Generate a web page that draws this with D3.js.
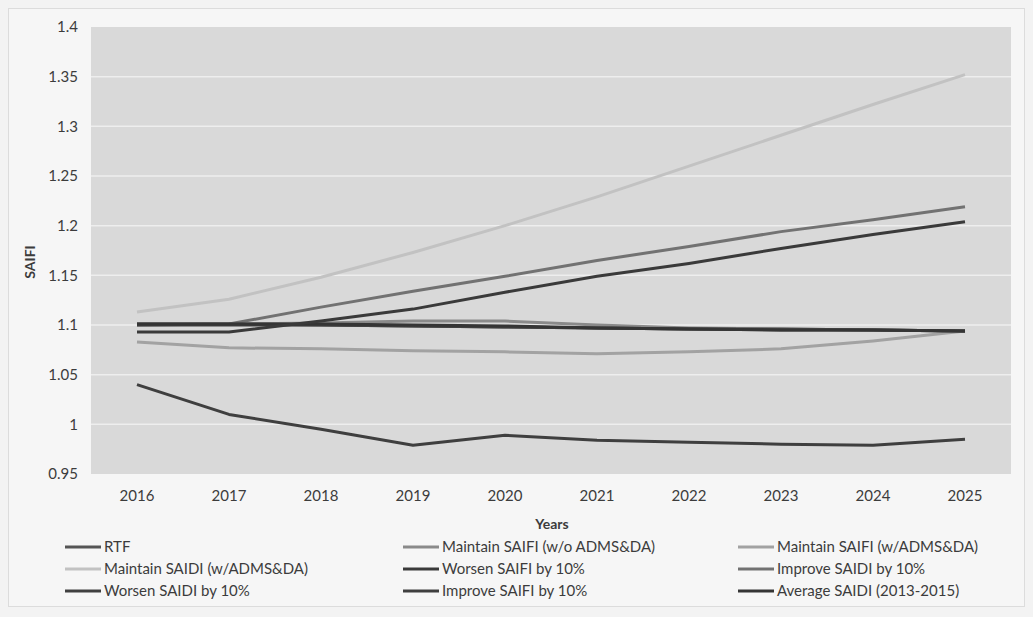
<!DOCTYPE html>
<html>
<head>
<meta charset="utf-8">
<script src="https://cdn.jsdelivr.net/npm/d3@7"></script>
<style>
  html, body { margin: 0; padding: 0; background: #f3f3f3; }
  svg { display: block; font-family: Lato, "Open Sans", "Liberation Sans", sans-serif; }
</style>
</head>
<body>
<svg id="chart" width="1033" height="617"></svg>
<script>
// Projected SAIFI by scenario, 2016-2025
const years = ["2016", "2017", "2018", "2019", "2020", "2021", "2022", "2023", "2024", "2025"];
const yTicks = [0.95, 1, 1.05, 1.1, 1.15, 1.2, 1.25, 1.3, 1.35, 1.4];

const rtf               = [1.101, 1.101, 1.100, 1.099, 1.098, 1.097, 1.096, 1.096, 1.095, 1.094];
const maintainSaifiWo   = [1.101, 1.101, 1.102, 1.104, 1.104, 1.100, 1.097, 1.096, 1.095, 1.094];
const maintainSaifiW    = [1.083, 1.077, 1.076, 1.074, 1.073, 1.071, 1.073, 1.076, 1.084, 1.094];
const maintainSaidiW    = [1.113, 1.126, 1.148, 1.173, 1.200, 1.229, 1.260, 1.291, 1.322, 1.352];
const worsenSaifi10     = [1.093, 1.093, 1.104, 1.116, 1.133, 1.149, 1.162, 1.177, 1.191, 1.204];
const improveSaidi10    = [1.100, 1.101, 1.118, 1.134, 1.149, 1.165, 1.179, 1.194, 1.206, 1.219];
const worsenSaidi10     = [1.100, 1.100, 1.100, 1.099, 1.098, 1.097, 1.096, 1.095, 1.095, 1.094];
const improveSaifi10    = [1.040, 1.010, 0.995, 0.979, 0.989, 0.984, 0.982, 0.980, 0.979, 0.985];
const averageSaidi      = [1.101, 1.101, 1.101, 1.100, 1.099, 1.097, 1.096, 1.095, 1.095, 1.094];

const seriesNames = [
  "RTF", "Maintain SAIFI (w/o ADMS&DA)", "Maintain SAIFI (w/ADMS&DA)",
  "Maintain SAIDI (w/ADMS&DA)", "Worsen SAIFI by 10%", "Improve SAIDI by 10%",
  "Worsen SAIDI by 10%", "Improve SAIFI by 10%", "Average SAIDI (2013-2015)"
];
const seriesValues = [
  rtf, maintainSaifiWo, maintainSaifiW,
  maintainSaidiW, worsenSaifi10, improveSaidi10,
  worsenSaidi10, improveSaifi10, averageSaidi
];
const seriesColors = [
  "#555555", "#8a8a8a", "#a2a2a2",
  "#c2c2c2", "#3a3a3a", "#727272",
  "#404040", "#3f3f3f", "#353535"
];

const svg = d3.select("#chart");
const plot = { left: 91, right: 1011, top: 27, bottom: 474 };

// outer frame of the chart
svg.append("rect")
  .attr("x", 8.5).attr("y", 8.5).attr("width", 1016).attr("height", 598)
  .attr("fill", "#f6f6f6").attr("stroke", "#dcdcdc");

const x = d3.scaleBand().domain(years).range([plot.left, plot.right]);
const y = d3.scaleLinear().domain([0.95, 1.4]).range([plot.bottom, plot.top]);

// plot background
svg.append("rect")
  .attr("x", plot.left).attr("y", plot.top)
  .attr("width", plot.right - plot.left).attr("height", plot.bottom - plot.top)
  .attr("fill", "#d9d9d9");

// horizontal gridlines
svg.append("g")
  .selectAll("line")
  .data(yTicks.slice(1, -1))
  .join("line")
  .attr("x1", plot.left).attr("x2", plot.right)
  .attr("y1", d => y(d)).attr("y2", d => y(d))
  .attr("stroke", "#eeeeee").attr("stroke-width", 1.5);

// y axis labels
const yAxis = svg.append("g")
  .attr("transform", `translate(${plot.left},0)`)
  .call(d3.axisLeft(y).tickValues(yTicks).tickFormat(d3.format("")).tickSize(0).tickPadding(13));
yAxis.select(".domain").remove();
yAxis.selectAll("text").attr("font-size", 15).attr("fill", "#3c3c3c")
  .attr("font-family", "Lato, 'Open Sans', sans-serif");

// x axis labels
const xAxis = svg.append("g")
  .attr("transform", `translate(0,${plot.bottom})`)
  .call(d3.axisBottom(x).tickSize(0).tickPadding(16));
xAxis.select(".domain").remove();
xAxis.selectAll("text").attr("font-size", 15).attr("fill", "#3c3c3c")
  .attr("font-family", "Lato, 'Open Sans', sans-serif");

// axis titles
svg.append("text")
  .attr("x", 552).attr("y", 529)
  .attr("text-anchor", "middle")
  .attr("font-size", 14).attr("font-weight", "bold").attr("fill", "#3c3c3c")
  .text("Years");
svg.append("text")
  .attr("transform", "translate(35,262) rotate(-90)")
  .attr("text-anchor", "middle")
  .attr("font-size", 14).attr("font-weight", "bold").attr("fill", "#3c3c3c")
  .text("SAIFI");

// series lines (lightest first so darker lines sit on top)
const line = d3.line()
  .x((d, i) => x(years[i]) + x.bandwidth() / 2)
  .y(d => y(d));

const drawOrder = [3, 2, 1, 5, 0, 6, 8, 4, 7];
svg.append("g")
  .selectAll("path")
  .data(drawOrder)
  .join("path")
  .attr("d", i => line(seriesValues[i]))
  .attr("fill", "none")
  .attr("stroke", i => seriesColors[i])
  .attr("stroke-width", 3)
  .attr("stroke-linejoin", "round");

// legend: three columns, three rows
const legendCols = [65, 403, 738];
const legendRows = [547, 569, 591];
const legend = svg.append("g")
  .selectAll("g")
  .data(seriesNames)
  .join("g")
  .attr("transform", (d, i) => `translate(${legendCols[i % 3]},${legendRows[Math.floor(i / 3)]})`);
legend.append("line")
  .attr("x1", 0).attr("x2", 36)
  .attr("stroke", (d, i) => seriesColors[i]).attr("stroke-width", 3);
legend.append("text")
  .attr("x", 39).attr("dy", "0.35em")
  .attr("font-size", 15).attr("fill", "#3c3c3c")
  .text(d => d);
</script>
</body>
</html>
